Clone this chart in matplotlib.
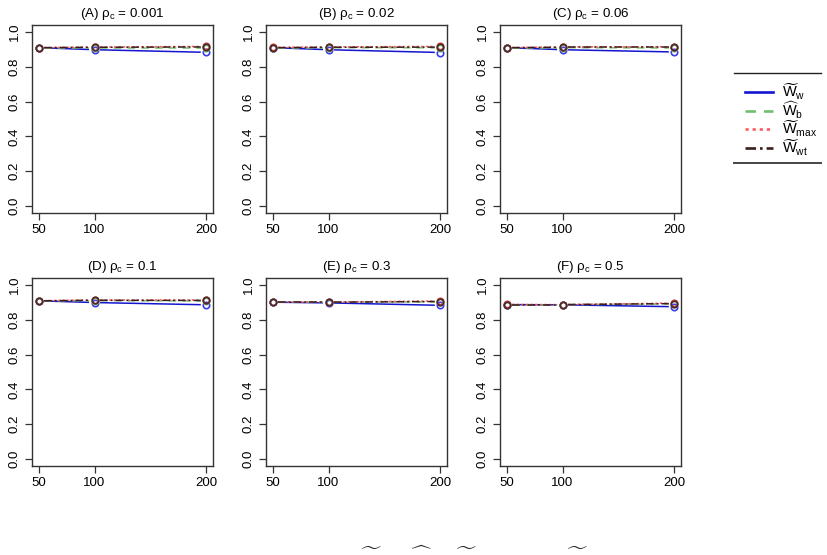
import matplotlib
matplotlib.use("Agg")
import matplotlib.pyplot as plt
from matplotlib.lines import Line2D
import numpy as np

plt.rcParams['font.family'] = ['Liberation Sans', 'DejaVu Sans']
plt.rcParams['mathtext.fontset'] = 'custom'
plt.rcParams['mathtext.rm'] = 'Liberation Sans'
plt.rcParams['mathtext.it'] = 'Liberation Sans'
plt.rcParams['mathtext.sf'] = 'Liberation Sans'

# ---------------- data ----------------
sample_sizes = [50, 100, 200]
panel_titles = [r'(A) $\rho_{\mathrm{c}}$ = 0.001', r'(B) $\rho_{\mathrm{c}}$ = 0.02',
                r'(C) $\rho_{\mathrm{c}}$ = 0.06', r'(D) $\rho_{\mathrm{c}}$ = 0.1',
                r'(E) $\rho_{\mathrm{c}}$ = 0.3', r'(F) $\rho_{\mathrm{c}}$ = 0.5']
series_labels = [r'$\widetilde{\mathrm{W}}_{\mathrm{w}}$', r'$\widehat{\mathrm{W}}_{\mathrm{b}}$',
                 r'$\widetilde{\mathrm{W}}_{\mathrm{max}}$', r'$\widetilde{\mathrm{W}}_{\mathrm{wt}}$']

W_w   = [[0.910, 0.898, 0.883], [0.910, 0.898, 0.882], [0.910, 0.898, 0.885],
         [0.909, 0.899, 0.886], [0.901, 0.897, 0.883], [0.887, 0.886, 0.875]]
W_b   = [[0.910, 0.910, 0.910], [0.910, 0.910, 0.909], [0.910, 0.910, 0.908],
         [0.909, 0.910, 0.908], [0.901, 0.901, 0.903], [0.887, 0.887, 0.891]]
W_max = [[0.910, 0.913, 0.917], [0.911, 0.914, 0.917], [0.910, 0.914, 0.915],
         [0.909, 0.914, 0.914], [0.901, 0.902, 0.908], [0.888, 0.887, 0.896]]
W_wt  = [[0.910, 0.912, 0.914], [0.910, 0.912, 0.913], [0.910, 0.912, 0.912],
         [0.909, 0.912, 0.911], [0.901, 0.901, 0.905], [0.887, 0.887, 0.893]]

yticks = [0.0, 0.2, 0.4, 0.6, 0.8, 1.0]
ytick_labels = ['0.0', '0.2', '0.4', '0.6', '0.8', '1.0']

# remnant accents of an outer label (the letters fall outside the figure)
remnant_accents = [r'$\widetilde{\quad}$', r'$\widehat{\quad}$',
                   r'$\widetilde{\quad}$', r'$\widetilde{\quad}$']

# ---------------- styles ----------------
line_colors = ['#1515D0', '#70C070', '#FF5A5A', '#3A1E1E']
marker_colors = ['#3A3AF0', '#70C070', '#C83C3C', '#4A2A2A']
line_styles = ['-', (0, (5, 4)), (0, (1.5, 1.5)), (0, (5, 2, 1.2, 2))]
legend_styles = ['-', (0, (4, 3)), (0, (1.2, 1.5)), (0, (4, 1.5, 1, 1.5))]

W, H = 828, 555
fig = plt.figure(figsize=(W / 100, H / 100), dpi=100)

box_w, box_h = 181, 188
col_left = [32, 266, 500]
row_top = [25, 278]

all_series = [W_w, W_b, W_max, W_wt]
xlim = (44, 206)
ylim = (-0.04, 1.04)
gap_px = 5.5

for p in range(6):
    r, c = divmod(p, 3)
    left = col_left[c] / W
    bottom = (H - row_top[r] - box_h) / H
    ax = fig.add_axes([left, bottom, box_w / W, box_h / H])
    ax.set_xlim(*xlim)
    ax.set_ylim(*ylim)
    px_per_x = box_w / (xlim[1] - xlim[0])
    dx_gap = gap_px / px_per_x
    for s, series in enumerate(all_series):
        ys = series[p]
        for i in range(len(sample_sizes) - 1):
            x0, x1 = sample_sizes[i], sample_sizes[i + 1]
            y0, y1 = ys[i], ys[i + 1]
            xa, xb = x0 + dx_gap, x1 - dx_gap
            ya = y0 + (y1 - y0) * (xa - x0) / (x1 - x0)
            yb = y0 + (y1 - y0) * (xb - x0) / (x1 - x0)
            ax.plot([xa, xb], [ya, yb], color=line_colors[s], linestyle=line_styles[s],
                    lw=1.1, solid_capstyle='butt', dash_capstyle='butt')
        ax.plot(sample_sizes, ys, linestyle='none', marker='o', ms=4.6, mfc='none',
                mec=marker_colors[s], mew=1.2)
    for sp in ax.spines.values():
        sp.set_color('#333333')
        sp.set_linewidth(1.0)
    ax.set_xticks(sample_sizes)
    ax.set_xticklabels([str(v) for v in sample_sizes], fontsize=9.5)
    ax.set_yticks(yticks)
    ax.set_yticklabels(ytick_labels, fontsize=9.5, rotation=90, va='center')
    ax.tick_params(direction='out', length=5, width=0.9, color='#333333', pad=3)
    ax.set_title(panel_titles[p], fontsize=9.6, pad=6)

# ---------------- legend ----------------
fig.add_artist(Line2D([734 / W, 821 / W], [1 - 73 / H, 1 - 73 / H], color='#222222', lw=1.0))
fig.add_artist(Line2D([734 / W, 821 / W], [1 - 163 / H, 1 - 163 / H], color='#444444', lw=1.4))
leg_y = [92, 110.5, 129, 147.5]
for s in range(4):
    yy = 1 - leg_y[s] / H
    fig.add_artist(Line2D([745 / W, 773 / W], [yy, yy], color=line_colors[s],
                          linestyle=legend_styles[s], lw=1.9))
    fig.text(782 / W, yy, series_labels[s], fontsize=10.5, va='center', ha='left')

# ---------------- accent remnants at the bottom ----------------
remnant_x = [371, 421, 466, 577]
for xx, lab in zip(remnant_x, remnant_accents):
    fig.text(xx / W, 1 - 554.5 / H, lab, fontsize=16, ha='center', va='bottom', color='#222222')

fig.savefig('out.png', dpi=100)
